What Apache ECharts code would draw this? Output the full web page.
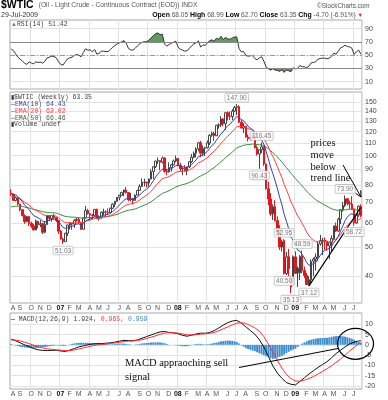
<!DOCTYPE html>
<html><head><meta charset="utf-8">
<script src="https://cdn.jsdelivr.net/npm/echarts@6/dist/echarts.min.js"></script>
<style>html,body{margin:0;padding:0;background:#fff}#c{width:388px;height:400px}</style>
</head><body><div id="c"></div>
<script>
// ---- weekly OHLC, $WTIC, weeks starting 2006-08-07 ----
const opens = [74.8,74.4,71.1,72.5,69.2,66.3,63.3,60.6,62.9,59.8,58.6,56.8,60.7,59.1,59.6,55.8,59.2,63.4,62.0,63.4,
62.4,61.1,56.3,53.0,52.0,55.4,59.0,59.9,59.4,61.1,61.6,60.0,57.1,62.3,65.9,64.3,63.6,63.4,66.5,61.9,
62.4,64.9,65.2,65.1,64.8,67.0,69.1,70.7,72.8,73.9,75.6,77.0,75.5,71.5,72.0,71.1,74.0,76.7,79.1,81.6,
81.7,81.2,83.7,88.6,91.9,95.9,96.3,95.1,98.2,88.7,88.3,91.3,93.3,96.0,97.9,92.7,90.6,90.7,89.0,91.8,
95.5,98.8,101.8,105.2,110.2,101.8,105.6,106.2,110.1,116.7,118.5,116.3,126.0,126.3,132.2,127.4,138.5,134.9,134.6,140.2,
144.3,145.1,128.9,123.3,125.1,115.2,113.8,114.6,115.5,106.2,101.2,104.6,106.9,93.9,77.7,71.9,64.2,67.8,61.0,57.0,
49.9,52.5,40.8,46.3,36.8,37.7,46.3,42.5,41.0,46.5,41.7,40.2,37.5,38.9,44.8,45.5,46.3,51.1,52.4,52.5,
52.2,50.3,51.6,53.2,58.6,56.3,61.7,66.3,68.4,72.0,69.6,69.2,66.7,59.9,63.6,68.05];
const highs = [77.4,75.0,73.4,72.6,69.3,66.5,64.0,63.3,63.0,60.5,59.5,61.5,61.0,61.2,60.0,60.5,63.5,63.6,63.6,64.2,
62.6,61.3,56.8,53.6,55.6,59.1,60.2,59.9,61.7,62.3,62.3,60.5,62.5,68.1,66.7,64.5,64.2,66.6,66.8,63.5,
65.3,66.8,65.9,66.9,67.4,69.5,70.7,72.9,74.3,76.0,77.2,78.8,75.6,75.3,72.4,74.5,77.2,80.4,84.1,83.9,
81.8,83.9,90.1,92.2,96.2,98.6,96.4,99.3,98.6,90.5,95.0,94.0,97.0,100.1,98.0,94.5,91.5,93.0,91.8,96.0,
101.3,103.1,106.5,111.0,111.8,107.9,106.9,112.2,117.8,119.9,120.0,126.2,127.8,135.1,133.0,139.1,139.9,139.9,142.3,145.9,
147.90,146.7,131.4,127.9,125.2,117.3,117.5,119.0,117.6,108.0,104.6,110.45,107.0,94.0,82.0,75.2,69.0,71.2,63.0,58.9,
52.6,52.95,48.0,49.2,39.9,46.8,48.3,43.0,46.9,48.59,43.0,41.0,40.0,45.4,46.0,47.5,52.0,54.7,53.5,53.6,
52.4,51.6,54.5,58.6,60.1,62.3,66.6,70.3,73.90,72.5,71.0,73.4,66.8,64.1,68.5,68.99];
const lows = [73.6,71.0,70.6,68.5,65.5,63.0,59.5,60.2,58.5,57.6,56.6,56.7,57.5,58.0,55.1,55.4,59.0,60.8,60.5,61.6,
60.3,55.1,52.8,51.03,51.8,54.3,57.0,56.8,57.7,60.5,59.4,56.8,57.0,62.0,63.9,61.3,61.9,63.1,61.7,61.0,
61.9,63.6,62.6,64.0,64.6,66.6,67.6,70.3,71.2,73.6,73.5,74.9,70.6,70.6,69.0,71.0,73.9,76.5,78.8,79.1,
78.4,79.0,83.5,83.8,91.0,93.8,89.5,94.2,87.8,86.2,87.9,88.6,92.8,95.0,92.3,88.6,86.1,88.6,86.1,91.0,
94.5,98.0,98.6,103.3,98.7,99.5,99.6,105.5,108.4,115.4,111.8,116.0,122.8,124.2,124.9,121.6,130.7,131.0,131.1,139.2,
135.9,128.1,123.3,118.6,114.6,111.3,112.0,113.0,105.5,100.0,90.43,102.0,92.5,77.3,68.6,63.2,61.3,60.6,54.7,48.8,
48.3,40.50,40.3,40.0,35.13,37.4,40.6,36.8,38.8,40.9,39.4,37.4,37.12,37.8,40.0,41.7,44.8,50.4,46.9,48.9,
48.5,45.5,48.2,52.7,55.9,56.0,59.4,65.3,67.6,68.5,66.6,66.3,58.72,59.6,62.8,62.70];
const closes = [74.35,71.14,72.51,69.20,66.25,63.34,60.55,62.91,59.76,58.57,56.82,60.75,59.14,59.58,55.81,59.20,63.43,62.03,63.43,62.41,
61.05,56.31,52.99,51.99,55.42,59.02,59.89,59.39,61.14,61.64,60.05,57.11,62.28,65.87,64.28,63.63,63.38,66.46,61.93,62.37,
64.94,65.20,65.08,64.76,67.00,69.14,70.68,72.81,73.93,75.57,77.02,75.48,71.47,71.98,71.09,74.04,76.70,79.10,81.62,81.66,
81.22,83.69,88.60,91.86,95.93,96.32,95.10,98.18,88.71,88.28,91.27,93.31,96.00,97.91,92.69,90.57,90.71,88.96,91.77,95.50,
98.81,101.84,105.15,110.21,101.84,105.62,106.23,110.14,116.69,118.52,116.32,125.96,126.29,132.19,127.35,138.54,134.86,134.62,140.21,144.29,
145.08,128.88,123.26,125.10,115.20,113.77,114.59,115.46,106.23,101.18,104.55,106.89,93.88,77.70,71.85,64.15,67.81,61.04,57.04,49.93,
52.00,40.81,46.28,42.36,37.71,46.34,40.83,41.00,46.47,41.68,40.17,37.51,38.94,44.76,45.52,46.25,51.06,52.38,52.51,52.24,
50.33,51.55,53.20,58.63,56.34,61.67,66.31,68.44,72.04,69.55,69.16,66.73,59.89,63.56,68.05,63.35];

// ---- overlays ----
const ema10 = [75.3,74.5,74.2,73.3,72.0,70.4,68.6,67.6,66.2,64.8,63.3,62.9,62.2,61.7,60.7,60.4,60.9,61.1,61.6,61.7,
61.6,60.6,59.2,57.9,57.5,57.8,58.1,58.4,58.9,59.4,59.5,59.1,59.7,60.8,61.4,61.8,62.1,62.9,62.7,62.7,
63.1,63.5,63.8,63.9,64.5,65.3,66.3,67.5,68.7,69.9,71.2,72.0,71.9,71.9,71.8,72.2,73.0,74.1,75.5,76.6,
77.4,78.6,80.4,82.5,84.9,87.0,88.5,90.2,90.0,89.7,89.9,90.6,91.5,92.7,92.7,92.3,92.0,91.5,91.5,92.2,
93.4,95.0,96.8,99.3,99.7,100.8,101.8,103.3,105.7,108.1,109.6,112.5,115.0,118.2,119.8,123.2,125.3,127.0,129.4,132.1,
134.5,133.5,131.6,130.4,127.7,125.1,123.2,121.8,119.0,115.7,113.7,112.5,109.1,103.4,97.7,91.6,87.2,82.5,77.9,72.8,
69.0,63.9,60.7,57.4,53.8,52.5,50.4,48.7,48.3,47.1,45.9,44.3,43.4,43.6,44.0,44.4,45.6,46.8,47.9,48.7,
49.0,49.4,50.1,51.7,52.5,54.2,56.4,58.6,61.0,62.6,63.8,64.3,63.5,63.5,64.3,64.43];
const ema20 = [73.1,72.9,72.9,72.6,72.0,71.1,70.1,69.4,68.5,67.6,66.5,66.0,65.3,64.8,63.9,63.5,63.5,63.3,63.4,63.3,
63.1,62.4,61.5,60.6,60.1,60.0,60.0,59.9,60.1,60.2,60.2,59.9,60.1,60.7,61.0,61.3,61.5,62.0,62.0,62.0,
62.3,62.6,62.8,63.0,63.4,63.9,64.6,65.3,66.2,67.1,68.0,68.7,69.0,69.3,69.4,69.9,70.5,71.4,72.3,73.2,
74.0,74.9,76.2,77.7,79.4,81.0,82.4,83.9,84.3,84.7,85.3,86.1,87.0,88.1,88.5,88.7,88.9,88.9,89.2,89.8,
90.6,91.7,93.0,94.6,95.3,96.3,97.3,98.5,100.2,102.0,103.3,105.5,107.5,109.8,111.5,114.1,116.0,117.8,119.9,122.3,
124.4,124.9,124.7,124.7,123.8,122.9,122.1,121.5,120.0,118.2,116.9,116.0,113.9,110.4,106.8,102.7,99.4,95.7,92.0,88.0,
84.6,80.4,77.2,73.9,70.4,68.1,65.5,63.2,61.6,59.7,57.9,55.9,54.3,53.4,52.6,52.0,51.9,52.0,52.0,52.0,
51.9,51.9,52.0,52.6,53.0,53.8,55.0,56.3,57.8,58.9,59.9,60.5,60.5,60.8,61.4,62.02];
const ema50 = [67.8,67.9,68.1,68.1,68.1,67.9,67.6,67.4,67.1,66.8,66.4,66.2,65.9,65.6,65.3,65.0,65.0,64.8,64.8,64.7,
64.6,64.2,63.8,63.3,63.0,62.9,62.7,62.6,62.6,62.5,62.4,62.2,62.2,62.3,62.4,62.5,62.5,62.7,62.6,62.6,
62.7,62.8,62.9,63.0,63.1,63.4,63.7,64.0,64.4,64.9,65.3,65.7,66.0,66.2,66.4,66.7,67.1,67.6,68.1,68.6,
69.1,69.7,70.4,71.3,72.2,73.2,74.0,75.0,75.5,76.0,76.6,77.3,78.0,78.8,79.3,79.8,80.2,80.5,81.0,81.6,
82.2,83.0,83.9,84.9,85.6,86.4,87.1,88.0,89.2,90.3,91.3,92.7,94.0,95.5,96.8,98.4,99.8,101.2,102.7,104.3,
105.9,106.8,107.5,108.2,108.5,108.7,108.9,109.2,109.0,108.7,108.6,108.5,107.9,106.7,105.4,103.8,102.3,100.7,99.0,97.1,
95.3,93.2,91.3,89.4,87.4,85.8,84.0,82.4,80.9,79.4,77.9,76.3,74.8,73.7,72.6,71.5,70.7,70.0,69.3,68.7,
68.0,67.3,66.8,66.4,66.1,65.9,65.9,66.0,66.2,66.4,66.5,66.5,66.2,66.1,66.2,66.46];
const rsi14 = [59.5,57,52,47,44,41,38,36,40,38,37,40,39,39.5,38,41,46,47,48.5,48,
46,40,36,35,40,44.5,46,47,49.5,51,50,47.5,54,59.5,57.5,58,55,58.5,51.5,53,
56,56,55.5,55.5,58.5,62,64.5,67,68.5,70,72,68,60,58,57.5,60.5,64,67,69.5,70,
70.5,72.5,76,79,82.5,83.5,81,81.5,67,63.5,66,68,69.5,71,62,59,57.5,56,57,60,
64,67,68.5,71.5,62,65.5,64.5,68.5,72,73,71,75.5,74,78.5,73.5,77,74.5,74,76,77.5,
77.5,60,55,55.5,49.5,48.5,49,49.5,45,43,46,47.5,41,32,29.5,27.5,29.5,27.5,27,25.5,
28,24,27.5,26.5,25,31,29.5,30,34.5,32.5,32.5,31,33.5,38.5,39,40,44,45,45.5,45.5,
44.5,45.5,48,53,51.5,56,61,62.5,65,63,62.5,60.5,51,55,57.5,51.42];
const macdLine = [[0,2.8],[2,2.0],[4,1.0],[6,0.0],[8,-0.9],[10,-1.8],[12,-2.4],[14,-2.7],[16,-2.8],[18,-2.7],[20,-2.6],[22,-3.0],[24,-3.2],[26,-2.6],[28,-1.8],[30,-1.0],[32,-0.5],[34,0.0],[36,0.4],[38,0.6],[40,0.6],[42,0.8],[44,1.0],[46,1.3],[48,1.8],[50,2.2],[52,2.1],[54,2.0],[56,2.4],[58,3.2],[60,4.0],[62,4.8],[64,5.6],[66,6.3],[68,6.5],[70,6.0],[72,5.8],[74,5.4],[76,4.6],[78,4.2],[80,4.7],[82,5.3],[84,5.7],[86,5.6],[88,6.0],[90,6.9],[92,8.2],[94,9.6],[96,10.8],[98,11.6],[100,11.9],[102,10.6],[104,8.8],[106,7.0],[108,5.2],[110,2.5],[112,-1.0],[114,-5.5],[116,-10.3],[118,-13.8],[120,-16.3],[122,-18.4],[124,-19.2],[126,-19.5],[128,-17.8],[130,-16.0],[132,-14.2],[134,-12.6],[136,-11.0],[138,-9.6],[140,-8.2],[142,-6.3],[144,-4.3],[146,-2.6],[148,-1.0],[150,0.4],[152,1.3],[154,1.9],[155,1.924]];
const signalLine = [[0,2.4],[2,2.3],[4,1.9],[6,1.3],[8,0.6],[10,-0.2],[12,-0.9],[14,-1.5],[16,-1.9],[18,-2.2],[20,-2.4],[22,-2.6],[24,-2.8],[26,-2.8],[28,-2.5],[30,-2.0],[32,-1.5],[34,-1.0],[36,-0.5],[38,-0.1],[40,0.2],[42,0.4],[44,0.7],[46,0.9],[48,1.2],[50,1.6],[52,1.8],[54,1.9],[56,2.1],[58,2.5],[60,3.1],[62,3.7],[64,4.4],[66,5.1],[68,5.7],[70,5.9],[72,5.9],[74,5.7],[76,5.3],[78,4.9],[80,4.8],[82,4.9],[84,5.2],[86,5.4],[88,5.6],[90,6.0],[92,6.8],[94,7.8],[96,8.7],[98,9.7],[100,10.5],[102,10.8],[104,10.4],[106,9.4],[108,8.3],[110,6.6],[112,4.0],[114,0.4],[116,-3.6],[118,-7.6],[120,-11.3],[122,-14.4],[124,-16.4],[126,-17.6],[128,-17.7],[130,-17.2],[132,-16.4],[134,-15.4],[136,-14.2],[138,-12.9],[140,-11.6],[142,-10.2],[144,-8.6],[146,-6.9],[148,-5.0],[150,-3.0],[152,-1.2],[154,0.5],[155,0.965]];
const macdHist = [0.4,0.1,-0.3,-0.6,-0.9,-1.1,-1.3,-1.4,-1.5,-1.6,-1.6,-1.5,-1.5,-1.3,-1.2,-1.0,-0.9,-0.7,-0.5,-0.3,
-0.2,-0.3,-0.4,-0.4,-0.4,0.0,0.2,0.5,0.7,0.9,1.0,1.0,1.0,1.0,1.0,0.9,0.9,0.8,0.7,0.5,
0.4,0.4,0.4,0.3,0.3,0.3,0.4,0.5,0.6,0.6,0.6,0.5,0.3,0.2,0.1,0.2,0.3,0.5,0.7,0.8,
0.9,1.0,1.1,1.2,1.2,1.2,1.2,1.0,0.8,0.4,0.1,0.0,-0.1,-0.2,-0.3,-0.5,-0.7,-0.7,-0.7,-0.4,
-0.1,0.2,0.4,0.5,0.5,0.3,0.2,0.3,0.4,0.6,0.9,1.1,1.4,1.7,1.8,2.0,2.1,2.0,1.9,1.7,
1.4,0.6,-0.2,-0.9,-1.6,-2.0,-2.4,-2.8,-3.1,-3.6,-4.1,-4.6,-5.0,-5.6,-5.9,-6.5,-6.8,-6.6,-6.2,-5.8,
-5.3,-4.8,-4.1,-3.4,-2.8,-2.3,-1.9,-1.0,-0.1,0.6,1.2,1.7,2.2,2.5,2.8,3.0,3.2,3.3,3.3,3.4,
3.4,3.6,3.9,4.1,4.3,4.3,4.3,4.1,4.0,3.7,3.4,3.0,2.5,1.8,1.4,0.959];

// labelled swing points [weekIndex, price]
const highMarks = [[100,147.90],[111,110.45],[121,52.95],[129,48.59],[148,73.90]];
const lowMarks = [[23,51.03],[110,90.43],[121,40.50],[124,35.13],[132,37.12],[152,58.72]];
const trendLine = [[132,37.12],[155,67.5]];

// tick labels
const priceTicks = [40,50,60,70,80,90,100,110,120,130,140,150];
const rsiTicks = [10,30,50,70,90];
const macdTicks = [-20,-15,-10,-5,0,5,10];
const monthLetters = ['J','F','M','A','M','J','J','A','S','O','N','D'];

// weekly calendar (Monday of each week); month assigned by the week's Friday
const weeks = [], friMonth = [], friYear = [];
for (let i = 0; i < closes.length; i++) {
  const mon = new Date(Date.UTC(2006, 7, 7 + 7 * i));
  const fri = new Date(Date.UTC(2006, 7, 11 + 7 * i));
  weeks.push(mon.toISOString().slice(0, 10));
  friMonth.push(fri.getUTCMonth());
  friYear.push(fri.getUTCFullYear());
}
const monthStart = friMonth.map((m, i) => i === 0 || m !== friMonth[i - 1]);

const RED = '#e8141b', DARK = '#444';
const candleData = closes.map((c, i) => {
  const o = opens[i];
  const prev = i ? closes[i - 1] : o;
  const col = c < prev ? RED : DARK;
  const fill = c > o ? '#ffffff' : col;
  return { value: [o, c, lows[i], highs[i]],
    itemStyle: { color: fill, color0: fill, borderColor: col, borderColor0: col, borderWidth: 1 } };
});

const FONT = 'Liberation Sans';
const MONO = 'Liberation Mono';

function makeX(gi, showLabels) {
  return {
    type: 'category', gridIndex: gi, data: weeks, boundaryGap: true,
    axisLine: { show: false }, axisTick: { show: false },
    axisLabel: {
      show: showLabels, interval: (i) => monthStart[i], margin: 2,
      fontSize: 7, color: '#555', fontFamily: FONT, padding: [0, 0, 0, 4],
      formatter: (v, i) => friMonth[i] === 0 ? '{y|' + String(friYear[i]).slice(2) + '}' : monthLetters[friMonth[i]],
      rich: { y: { fontSize: 7, fontWeight: 'bold', color: '#111', fontFamily: FONT } }
    },
    splitLine: { show: true, interval: (i) => i > 0 && monthStart[i - 1] && friMonth[i - 1] % 3 === 0,
      lineStyle: { color: '#e3e3e3', width: 1 } }
  };
}
function yLab(ticks) {
  return { customValues: ticks, fontSize: 7, color: '#444', fontFamily: FONT, margin: 3 };
}

const gridStyle = { show: true, borderColor: '#a8a8a8', borderWidth: 1, backgroundColor: '#fff', containLabel: false };

const option = {
  animation: false,
  backgroundColor: '#fff',
  textStyle: { fontFamily: FONT },
  title: [
    { left: 1, top: 0, padding: 0, text: '{a|$WTIC} {b|(Oil - Light Crude - Continuous Contract (EOD)) INDX}',
      textStyle: { fontWeight: 'normal', lineHeight: 11, rich: {
        a: { fontSize: 10.5, fontWeight: 'bold', color: '#000', fontFamily: FONT, lineHeight: 11 },
        b: { fontSize: 6.7, color: '#555', fontFamily: FONT, lineHeight: 11 } } } },
    { left: 317, top: 2, padding: 0, text: '©StockCharts.com',
      textStyle: { fontSize: 6.3, fontWeight: 'normal', color: '#555', fontFamily: FONT, lineHeight: 8 } },
    { left: 1, top: 11.5, padding: 0, text: '29-Jul-2009',
      textStyle: { fontSize: 7, fontWeight: 'normal', color: '#333', fontFamily: FONT, lineHeight: 8 } },
    { right: 25, top: 11.5, padding: 0,
      text: '{l|Open} {v|68.05} {l|High} {v|68.99} {l|Low} {v|62.70} {l|Close} {v|63.35} {l|Chg} {v|-4.70 (-6.91%)} {r|▼}',
      textStyle: { fontWeight: 'normal', fontSize: 6.6, lineHeight: 8, rich: {
        l: { fontSize: 6.9, fontWeight: 'bold', color: '#000', fontFamily: FONT, lineHeight: 8 },
        v: { fontSize: 6.6, color: '#555', fontFamily: FONT, lineHeight: 8 },
        r: { fontSize: 5.5, color: '#e8141b', fontFamily: FONT, lineHeight: 8 } } } },
    { left: 11, top: 20.5, padding: 0, text: '{i|▲}{t|RSI(14) 51.42}',
      textStyle: { fontWeight: 'normal', rich: {
        i: { fontSize: 6, color: '#4f8f4f', fontFamily: FONT },
        t: { fontSize: 6.5, color: '#444', fontFamily: MONO } } } },
    { left: 11, top: 94, padding: 0,
      text: '{i|▮}{t|$WTIC (Weekly) 63.35}\n{b|—}{tb|EMA(10) 64.43}\n{r|—}{tr|EMA(20) 62.02}\n{g|—}{tg|EMA(50) 66.46}\n{i|▮}{t|Volume undef}',
      textStyle: { fontWeight: 'normal', lineHeight: 6.8, rich: {
        i: { fontSize: 6, color: '#333', fontFamily: MONO, lineHeight: 6.8 },
        t: { fontSize: 6.5, color: '#444', fontFamily: MONO, lineHeight: 6.8 },
        b: { fontSize: 6.5, color: '#2d3fae', fontFamily: MONO, lineHeight: 6.8 },
        tb: { fontSize: 6.5, color: '#3c4a9a', fontFamily: MONO, lineHeight: 6.8 },
        r: { fontSize: 6.5, color: '#ff3030', fontFamily: MONO, lineHeight: 6.8 },
        tr: { fontSize: 6.5, color: '#f04040', fontFamily: MONO, lineHeight: 6.8 },
        g: { fontSize: 6.5, color: '#2f7a2f', fontFamily: MONO, lineHeight: 6.8 },
        tg: { fontSize: 6.5, color: '#4a5a4a', fontFamily: MONO, lineHeight: 6.8 } } } },
    { left: 11, top: 315.5, padding: 0, text: '{k|—}{t| MACD(12,26,9) 1.924, }{r|0.965, }{bl|0.959}',
      textStyle: { fontWeight: 'normal', rich: {
        k: { fontSize: 6.5, color: '#000', fontFamily: MONO },
        t: { fontSize: 6.5, color: '#444', fontFamily: MONO },
        r: { fontSize: 6.5, color: '#f04040', fontFamily: MONO },
        bl: { fontSize: 6.5, color: '#3a8ac4', fontFamily: MONO } } } }
  ],
  grid: [
    Object.assign({ left: 10, right: 26, top: 20, height: 69 }, gridStyle),
    Object.assign({ left: 10, right: 26, top: 92, height: 211 }, gridStyle),
    Object.assign({ left: 10, right: 26, top: 313, height: 76 }, gridStyle)
  ],
  xAxis: [makeX(0, false), makeX(1, true), makeX(2, true)],
  yAxis: [
    { type: 'value', gridIndex: 0, position: 'right', min: -1, max: 103, scale: false,
      axisLine: { show: false }, axisTick: { show: false, customValues: rsiTicks },
      axisLabel: yLab(rsiTicks), splitLine: { show: true, lineStyle: { color: '#e3e3e3' } } },
    { type: 'log', logBase: 10, gridIndex: 1, position: 'right', min: 32.6, max: 162.2,
      axisLine: { show: false }, axisTick: { show: false, customValues: priceTicks },
      axisLabel: yLab(priceTicks), splitLine: { show: true, lineStyle: { color: '#e3e3e3' } } },
    { type: 'value', gridIndex: 2, position: 'right', min: -21.5, max: 15.5,
      axisLine: { show: false }, axisTick: { show: false, customValues: macdTicks },
      axisLabel: yLab(macdTicks), splitLine: { show: true, lineStyle: { color: '#e3e3e3' } } }
  ],
  visualMap: [{
    type: 'piecewise', show: false, seriesIndex: 0, dimension: 1,
    pieces: [
      { gt: 70, color: '#5f9c5f' },
      { gt: 30, lte: 70, color: 'rgba(255,255,255,0)' },
      { lte: 30, color: '#b56a6a' }
    ]
  }],
  series: [
    { name: 'rsiFill', type: 'line', xAxisIndex: 0, yAxisIndex: 0, data: rsi14, showSymbol: false, silent: true,
      lineStyle: { width: 0 }, areaStyle: { origin: 70, opacity: 1 }, z: 2 },
    { name: 'RSI', type: 'line', xAxisIndex: 0, yAxisIndex: 0, data: rsi14, showSymbol: false,
      lineStyle: { color: '#333', width: 1 }, itemStyle: { color: '#333' }, z: 4,
      markLine: { silent: true, symbol: ['none', 'none'], label: { show: false },
        data: [
          { yAxis: 70, lineStyle: { color: '#8a8a8a', width: 1, type: 'solid' } },
          { yAxis: 30, lineStyle: { color: '#8a8a8a', width: 1, type: 'solid' } },
          { yAxis: 50, lineStyle: { color: '#999', width: 1, type: [5, 2, 1, 2] } }
        ] } },
    { name: '$WTIC', type: 'candlestick', xAxisIndex: 1, yAxisIndex: 1, data: candleData, barWidth: 2,
      markLine: { silent: true, symbol: ['none', 'none'], label: { show: false },
        lineStyle: { color: '#000', width: 1.2, type: 'solid' },
        data: [[{ coord: trendLine[0] }, { coord: trendLine[1] }]] } },
    { name: 'EMA(50)', type: 'line', xAxisIndex: 1, yAxisIndex: 1, data: ema50, showSymbol: false,
      lineStyle: { color: '#3b8a3b', width: 1 }, z: 3 },
    { name: 'EMA(20)', type: 'line', xAxisIndex: 1, yAxisIndex: 1, data: ema20, showSymbol: false,
      lineStyle: { color: '#ff3b3b', width: 1 }, z: 3 },
    { name: 'EMA(10)', type: 'line', xAxisIndex: 1, yAxisIndex: 1, data: ema10, showSymbol: false,
      lineStyle: { color: '#2c3fb0', width: 1 }, z: 3 },
    { name: 'highs', type: 'scatter', xAxisIndex: 1, yAxisIndex: 1, data: highMarks, symbolSize: 1,
      itemStyle: { color: 'rgba(0,0,0,0)' }, z: 6, silent: true,
      label: { show: true, position: 'top', distance: 2, formatter: (p) => p.value[1].toFixed(2),
        fontSize: 6.5, color: '#555', fontFamily: FONT, backgroundColor: '#fff', borderColor: '#b5b5b5',
        borderWidth: 0.8, borderRadius: 1, padding: [1, 1.5, 0, 1.5] } },
    { name: 'lows', type: 'scatter', xAxisIndex: 1, yAxisIndex: 1, data: lowMarks, symbolSize: 1,
      itemStyle: { color: 'rgba(0,0,0,0)' }, z: 6, silent: true,
      label: { show: true, position: 'bottom', distance: 2, formatter: (p) => p.value[1].toFixed(2),
        fontSize: 6.5, color: '#555', fontFamily: FONT, backgroundColor: '#fff', borderColor: '#b5b5b5',
        borderWidth: 0.8, borderRadius: 1, padding: [1, 1.5, 0, 1.5] } },
    { name: 'Histogram', type: 'bar', xAxisIndex: 2, yAxisIndex: 2, data: macdHist, barWidth: '85%',
      itemStyle: { color: '#3d8ccb' }, z: 2 },
    { name: 'MACD', type: 'line', xAxisIndex: 2, yAxisIndex: 2, data: macdLine, showSymbol: false,
      lineStyle: { color: '#111', width: 1 }, z: 4 },
    { name: 'Signal', type: 'line', xAxisIndex: 2, yAxisIndex: 2, data: signalLine, showSymbol: false,
      lineStyle: { color: '#ff3030', width: 1 }, z: 4 }
  ],
  graphic: [
    { type: 'text', z: 100, style: { text: 'prices\nmove\nbelow\ntrend line', x: 310.5, y: 137.5,
      fontSize: 10.5, fontFamily: 'Liberation Serif', fill: '#111', lineHeight: 11.7, verticalAlign: 'top' } },
    { type: 'polyline', z: 100, shape: { points: [[343, 165], [361, 197]] }, style: { stroke: '#000', lineWidth: 1, fill: null } },
    { type: 'polyline', z: 100, shape: { points: [[355.5, 193.3], [361, 197], [360.7, 190.3]] }, style: { stroke: '#000', lineWidth: 1, fill: null } },
    { type: 'text', z: 100, style: { text: 'MACD appraoching sell\nsignal', x: 125, y: 356.3,
      fontSize: 10.5, fontFamily: 'Liberation Serif', fill: '#111', lineHeight: 14, verticalAlign: 'top' } },
    { type: 'polyline', z: 100, shape: { points: [[239, 367.5], [338, 348.5]] }, style: { stroke: '#000', lineWidth: 1, fill: null } },
    { type: 'ellipse', z: 100, shape: { cx: 355.5, cy: 343.8, rx: 18, ry: 15.5 }, style: { stroke: '#000', lineWidth: 1.2, fill: null } }
  ]
};

const chart = echarts.init(document.getElementById('c'), null, { renderer: 'canvas', width: 388, height: 400 });
chart.setOption(option);
</script>
</body></html>
